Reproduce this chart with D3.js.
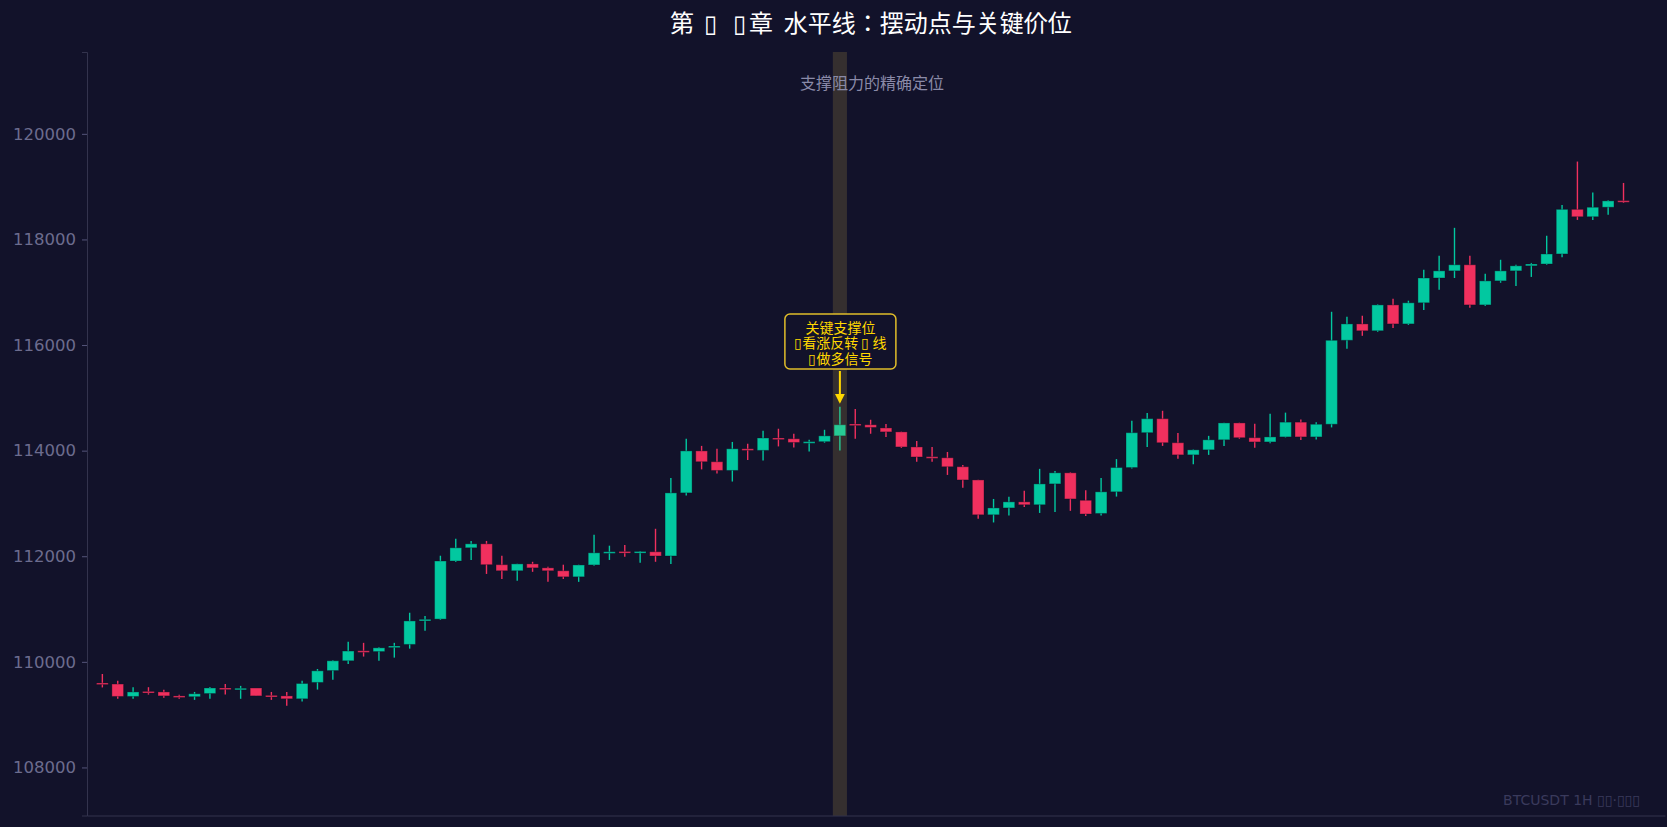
<!DOCTYPE html>
<html>
<head>
<meta charset="utf-8">
<script src="https://cdn.jsdelivr.net/npm/d3@7/dist/d3.min.js"></script>
<style>
  html, body { margin: 0; padding: 0; background: #12122a; }
  svg { display: block; }
</style>
</head>
<body>
<svg id="chart" width="1667" height="827"></svg>
<script>
const opens = [109600,109580,109345,109440,109430,109355,109340,109400,109505,109490,
  109505,109365,109355,109300,109610,109835,110020,110210,110195,110275,
  110330,110780,110810,111910,112160,112235,111840,111725,111855,111780,
  111725,111610,111835,112070,112090,112080,112085,112005,113200,113995,
  113790,113625,114035,114005,114240,114225,114155,114170,114280,114505,
  114490,114430,114355,114070,113885,113865,113695,113445,112785,112915,
  113030,112975,113370,113580,113060,112810,113220,113680,114340,114605,
  114150,113920,114015,114205,114525,114245,114165,114260,114540,114260,
  114500,116090,116400,116270,116760,116400,116800,117270,117405,117520,
  116760,117215,117405,117500,117535,117725,118570,118430,118610,118735];
const highs = [109770,109640,109520,109520,109470,109375,109430,109525,109580,109545,
  109505,109430,109430,109640,109865,110030,110380,110360,110275,110360,
  110930,110870,112010,112330,112290,112290,112010,111860,111895,111800,
  111840,111840,112405,112200,112215,112100,112520,113480,114225,114090,
  114035,114165,114130,114375,114415,114320,114205,114395,114830,114790,
  114585,114505,114360,114185,114070,113975,113730,113450,113085,113125,
  113240,113655,113615,113590,113250,113480,113840,114565,114715,114755,
  114335,114020,114280,114530,114530,114510,114700,114720,114590,114540,
  116630,116535,116555,116770,116875,116840,117425,117690,118220,117690,
  117350,117615,117520,117555,118070,118650,119475,118890,118740,119070];
const lows = [109515,109300,109300,109380,109320,109300,109280,109300,109380,109300,
  109355,109280,109170,109250,109475,109660,109960,110100,110020,110080,
  110250,110590,110795,111890,111930,111665,111570,111535,111705,111515,
  111570,111515,111820,111930,111990,111875,111895,111855,113150,113645,
  113565,113415,113825,113815,114080,114060,113985,114150,114005,114225,
  114320,114260,114050,113790,113790,113540,113295,112710,112640,112770,
  112935,112820,112840,112860,112760,112770,113130,113660,114070,114090,
  113845,113740,113920,114090,114225,114055,114140,114250,114200,114210,
  114440,115930,116175,116250,116325,116380,116665,117045,117270,116705,
  116740,117180,117120,117290,117520,117665,118370,118370,118470,118690];
const closes = [109590,109345,109430,109430,109355,109345,109395,109505,109495,109500,
  109355,109360,109300,109590,109830,110020,110205,110195,110265,110300,
  110775,110805,111910,112160,112235,111840,111725,111855,111780,111725,
  111610,111835,112065,112085,112080,112090,112005,113200,113995,113790,
  113625,114035,114005,114240,114230,114155,114170,114280,114490,114495,
  114440,114355,114070,113880,113875,113695,113445,112785,112915,113030,
  112975,113370,113580,113085,112800,113220,113680,114340,114605,114150,
  113920,114015,114205,114525,114245,114165,114260,114540,114260,114500,
  116090,116400,116270,116760,116400,116800,117270,117405,117520,116760,
  117215,117405,117500,117535,117725,118570,118430,118610,118730,118725];
const yTicks = [108000, 110000, 112000, 114000, 116000, 118000, 120000];
const highlightIndex = 48;
const titleParts = ["第", "▯", "▯", "章  水平线：摆动点与关键价位"];
const subtitleText = "支撑阻力的精确定位";
const annotationLines = ["关键支撑位", "▯看涨反转 ▯ 线", "▯做多信号"];
const watermarkText = "BTCUSDT 1H  ▯▯·▯▯▯";

const W = 1667, H = 827;
const margin = {left: 87, top: 52, right: 2, bottom: 827 - 815.5};
const svg = d3.select("#chart");
svg.append("rect").attr("width", W).attr("height", H).attr("fill", "#12122a");

const candles = opens.map((o, i) => ({i, o, h: highs[i], l: lows[i], c: closes[i]}));

const x = d3.scaleLinear().domain([-1, 101.7]).range([margin.left, W - margin.right]);
const y = d3.scaleLinear().domain([107090, 121550]).range([H - margin.bottom, margin.top]);
const step = x(1) - x(0);
const bodyW = step * 0.76;

const UP = "#02c8a0", DOWN = "#f0305e";

// axes
const yAxis = d3.axisLeft(y).tickValues(yTicks).tickSize(5).tickPadding(6).tickFormat(d3.format("d"));
const gy = svg.append("g").attr("transform", `translate(${margin.left},0)`).call(yAxis);
gy.select(".domain").attr("stroke", "#33334d");
gy.selectAll(".tick line").attr("stroke", "#55557a");
gy.selectAll(".tick text").attr("fill", "#6c6c8e").attr("font-size", 16.5)
  .attr("font-family", "DejaVu Sans, sans-serif");

const xAxis = d3.axisBottom(x).tickValues([]).tickSizeOuter(0);
const gx = svg.append("g").attr("transform", `translate(0,${H - margin.bottom})`).call(xAxis);
gx.select(".domain").attr("stroke", "#33334d");

// candles
const g = svg.append("g");
g.selectAll("line.wick").data(candles).join("line")
  .attr("class", "wick")
  .attr("x1", d => x(d.i)).attr("x2", d => x(d.i))
  .attr("y1", d => y(d.h)).attr("y2", d => y(d.l))
  .attr("stroke", d => d.c >= d.o ? UP : DOWN)
  .attr("stroke-width", 1.4);
g.selectAll("rect.body").data(candles).join("rect")
  .attr("class", "body")
  .attr("x", d => x(d.i) - bodyW / 2)
  .attr("width", bodyW)
  .attr("y", d => Math.min(y(d.o), y(d.c)))
  .attr("height", d => Math.max(1.6, Math.abs(y(d.o) - y(d.c))))
  .attr("fill", d => d.c >= d.o ? UP : DOWN)
  .attr("stroke", "#0c0c20").attr("stroke-opacity", 0.35).attr("stroke-width", 1);

// highlight band
svg.append("rect")
  .attr("x", x(highlightIndex) - step * 0.46)
  .attr("width", step * 0.92)
  .attr("y", margin.top)
  .attr("height", (H - margin.bottom) - margin.top)
  .attr("fill", "#ffd54f").attr("opacity", 0.15);

// title & subtitle
const title = svg.append("text").attr("x", 871).attr("y", 32).attr("text-anchor", "middle")
  .attr("fill", "#ffffff").attr("font-size", 24)
  .attr("font-family", "Noto Sans CJK JP, Noto Sans CJK SC, sans-serif")
  .attr("xml:space", "preserve");
const titleDx = [0, 10, 16, 3];
title.selectAll("tspan").data(titleParts).join("tspan")
  .attr("dx", (d, i) => titleDx[i])
  .text(d => d);
svg.append("text").attr("x", 872).attr("y", 89).attr("text-anchor", "middle")
  .attr("fill", "#8a8aa8").attr("font-size", 16)
  .attr("font-family", "Noto Sans CJK SC, sans-serif")
  .text(subtitleText);

// annotation
const ax = x(highlightIndex);
const hc = candles[highlightIndex];
const tipY = y(hc.h) - 5;
const boxBottom = 369, boxTop = 314, boxW = 111;
svg.append("defs").append("marker").attr("id", "arr")
  .attr("viewBox", "0 0 10 10").attr("refX", 8).attr("refY", 5)
  .attr("markerWidth", 5).attr("markerHeight", 5).attr("orient", "auto")
  .append("path").attr("d", "M0,0 L10,5 L0,10 z").attr("fill", "#ffd700");
svg.append("line").attr("x1", ax).attr("x2", ax).attr("y1", boxBottom + 2).attr("y2", tipY)
  .attr("stroke", "#ffd700").attr("stroke-width", 2).attr("marker-end", "url(#arr)");
svg.append("rect").attr("x", ax - boxW / 2 + 0.5).attr("y", boxTop).attr("width", boxW)
  .attr("height", boxBottom - boxTop).attr("rx", 5)
  .attr("fill", "#12122a").attr("stroke", "#e0bd2a").attr("stroke-width", 1.5);
const ann = svg.append("text").attr("x", ax + 0.5).attr("y", 332.5)
  .attr("text-anchor", "middle").attr("fill", "#ffd700").attr("font-size", 14)
  .attr("font-family", "Noto Sans CJK SC, sans-serif");
ann.selectAll("tspan").data(annotationLines).join("tspan")
  .attr("x", ax + 0.5).attr("dy", (d, i) => i === 0 ? 0 : 15.5)
  .text(d => d);

// watermark
svg.append("text").attr("x", 1640).attr("y", 805).attr("text-anchor", "end")
  .attr("fill", "#3a3a5c").attr("font-size", 14)
  .attr("font-family", "DejaVu Sans, sans-serif")
  .text(watermarkText);
</script>
</body>
</html>
